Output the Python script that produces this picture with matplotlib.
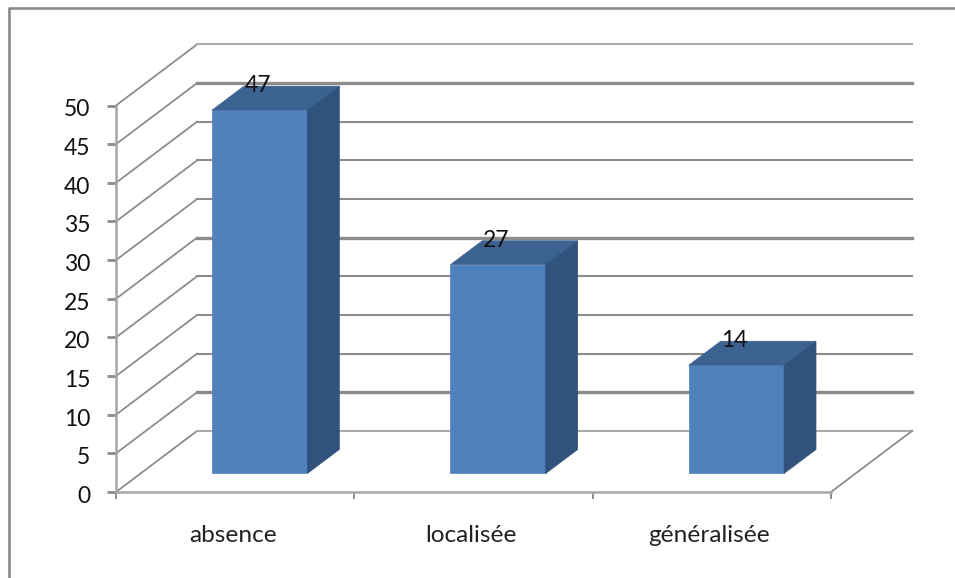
import matplotlib
matplotlib.use("Agg")
import matplotlib.pyplot as plt
from matplotlib.transforms import ScaledTranslation

categories = ["absence", "localisée", "généralisée"]
values = [47, 27, 14]
y_ticks = list(range(0, 55, 5))

# depth of the fake 3d box, in data units
DEPTH_X = 0.34
DEPTH_Y = 7.9
BAR_DEPTH_X = 0.134
BAR_DEPTH_Y = 3.1
BAR_WIDTH = 0.4

GRID = "#8c8c8c"
FRONT = "#4f81bd"
TOP = "#3c6291"
SIDE = "#30527c"

W, H = 955, 578
plt.rcParams["font.family"] = ["Lato", "DejaVu Sans"]

fig = plt.figure(figsize=(W / 100, H / 100), dpi=100)
# axes box = front face of the chart, value 0..50
ax = fig.add_axes([116 / W, 1 - 492 / H, (831 - 116) / W, (492 - 105.5) / H])
ax.set_xlim(0, 3)
ax.set_ylim(0, 50)
ax.patch.set_visible(False)
for s in ["top", "right"]:
    ax.spines[s].set_visible(False)
for s in ["left", "bottom"]:
    ax.spines[s].set_color("#a6a6a6")
    ax.spines[s].set_linewidth(1.8)

ax.set_yticks(y_ticks)
ax.tick_params(axis="y", length=6.5, width=2, color=GRID, labelsize=16.5, pad=12, labelcolor="#111111")
ax.set_xticks([0, 1, 2, 3])
ax.set_xticklabels([])
ax.tick_params(axis="x", which="major", length=5, width=1.4, color=GRID)
ax.set_xticks([0.5, 1.5, 2.5], minor=True)
ax.set_xticklabels(categories, minor=True)
ax.tick_params(axis="x", which="minor", length=0, labelsize=17.6, pad=24, labelcolor="#222222")

# nudge the labels a little, they sit off the ticks in the picture
for lab in ax.get_yticklabels():
    lab.set_transform(lab.get_transform() + ScaledTranslation(0, -2.5 / 100, fig.dpi_scale_trans))
for lab in ax.get_xticklabels(minor=True):
    lab.set_transform(lab.get_transform() + ScaledTranslation(-2.5 / 100, 0, fig.dpi_scale_trans))

# wall lines: diagonals on the side wall, then the back wall
for v in y_ticks:
    ax.plot([0, DEPTH_X], [v, v + DEPTH_Y], color=GRID, lw=1.3, clip_on=False, zorder=1)
    lw = 2.4 if v in (5, 25, 45) else 1.5
    col = "#ababab" if v in (0, 50) else GRID
    ax.plot([DEPTH_X, 3 + DEPTH_X], [v + DEPTH_Y, v + DEPTH_Y], color=col, lw=lw,
            clip_on=False, zorder=1)
ax.plot([3, 3 + DEPTH_X], [0, DEPTH_Y], color=GRID, lw=1.3, clip_on=False, zorder=1)

# bars
for i, val in enumerate(values):
    x0 = i + 0.5 - BAR_WIDTH / 2 + (DEPTH_X - BAR_DEPTH_X) / 2
    x1 = x0 + BAR_WIDTH
    y0 = (DEPTH_Y - BAR_DEPTH_Y) / 2
    y1 = y0 + val
    ax.fill([x0, x1, x1, x0], [y0, y0, y1, y1], color=FRONT, lw=0.5, clip_on=False, zorder=3)
    ax.fill([x0, x1, x1 + BAR_DEPTH_X, x0 + BAR_DEPTH_X],
            [y1, y1, y1 + BAR_DEPTH_Y, y1 + BAR_DEPTH_Y], color=TOP, lw=0.5, clip_on=False, zorder=3)
    ax.fill([x1, x1 + BAR_DEPTH_X, x1 + BAR_DEPTH_X, x1],
            [y0, y0 + BAR_DEPTH_Y, y1 + BAR_DEPTH_Y, y1], color=SIDE, lw=0.5, clip_on=False, zorder=3)
    ax.annotate(str(val), ((x0 + x1) / 2, y1), xytext=(-1.5, 17.5), textcoords="offset points",
                ha="center", va="center", fontsize=16.5, color="#111111", zorder=4, annotation_clip=False)

# outer frame, only left and top show in the picture
fig.add_artist(plt.Line2D([8.5 / W, 8.5 / W, 1], [0, 1 - 8 / H, 1 - 8 / H], color="#8a8a8a", lw=1.9))

fig.savefig("out.png", dpi=100)
